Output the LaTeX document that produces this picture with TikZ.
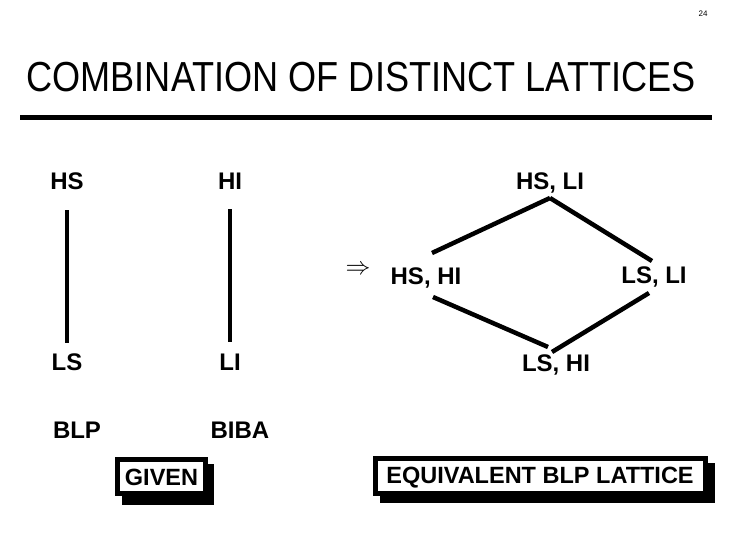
\documentclass[tikz,border=0pt]{standalone}
\usepackage{fontspec}
\setmainfont{Liberation Sans}
\begin{document}
\begin{tikzpicture}[x=1pt,y=-1pt,
  lab/.style={font=\fontsize{24}{26}\selectfont\bfseries, inner sep=0pt, anchor=base},
  boxlab/.style={font=\fontsize{23.5}{26}\selectfont\bfseries, inner sep=0pt, anchor=base},
  edge/.style={line width=4.5pt},
  frame/.style={line width=5pt, draw=black, fill=white},
  shadow/.style={fill=black}]
\useasboundingbox (0,0) rectangle (729,551);
\fill[white] (0,0) rectangle (729,551);
% page number
\node[inner sep=0pt, anchor=base, font=\fontsize{8}{9}\selectfont] (pg) at (703,17) {24};
% title
\node[inner sep=0pt, anchor=base, font=\fontsize{42}{46}\selectfont] (title) at (361,92) {\scalebox{0.86}[1]{COMBINATION OF DISTINCT LATTICES}};
\coordinate (rl) at (20,117.5);
\coordinate (rr) at (712,117.5);
\draw[line width=5pt] (rl) -- (rr);
% given lattices
\node[lab] (hs) at (67,189) {HS};
\node[lab] (hi) at (230,189) {HI};
\node[lab] (ls) at (67,370) {LS};
\node[lab] (li) at (230,370) {LI};
\node[lab] (blp) at (77,438) {BLP};
\node[lab] (biba) at (240,438) {BIBA};
\coordinate (hsb) at (67,210);
\coordinate (lst) at (67,343);
\coordinate (hib) at (230,209);
\coordinate (lit) at (230,342);
\draw[edge] (hsb) -- (lst);
\draw[edge] (hib) -- (lit);
% arrow
\node[inner sep=0pt, font=\fontsize{25}{27}\selectfont] (imp) at (358,270) {$\Rightarrow$};
% combined lattice
\node[lab] (hsli) at (550,189) {HS, LI};
\node[lab] (hshi) at (426,284) {HS, HI};
\node[lab] (lsli) at (654,283) {LS, LI};
\node[lab] (lshi) at (556,371) {LS, HI};
\coordinate (top) at (550,198);
\coordinate (lt) at (432,253);
\coordinate (rt) at (652,261);
\coordinate (lb) at (433,297);
\coordinate (bl) at (548,347);
\coordinate (br) at (552,352);
\coordinate (rb) at (649,293);
\draw[edge] (top) -- (lt);
\draw[edge] (top) -- (rt);
\draw[edge] (lb) -- (bl);
\draw[edge] (br) -- (rb);
% boxes
\fill[shadow] (122,464) rectangle (214,505);
\draw[frame] (117.5,459.5) rectangle (205.5,493);
\node[boxlab] (given) at (161.5,485) {GIVEN};
\fill[shadow] (380,463) rectangle (715,503);
\draw[frame] (375.5,458.5) rectangle (705.5,493);
\node[boxlab] (equiv) at (540,483) {EQUIVALENT BLP LATTICE};
\end{tikzpicture}
\end{document}
